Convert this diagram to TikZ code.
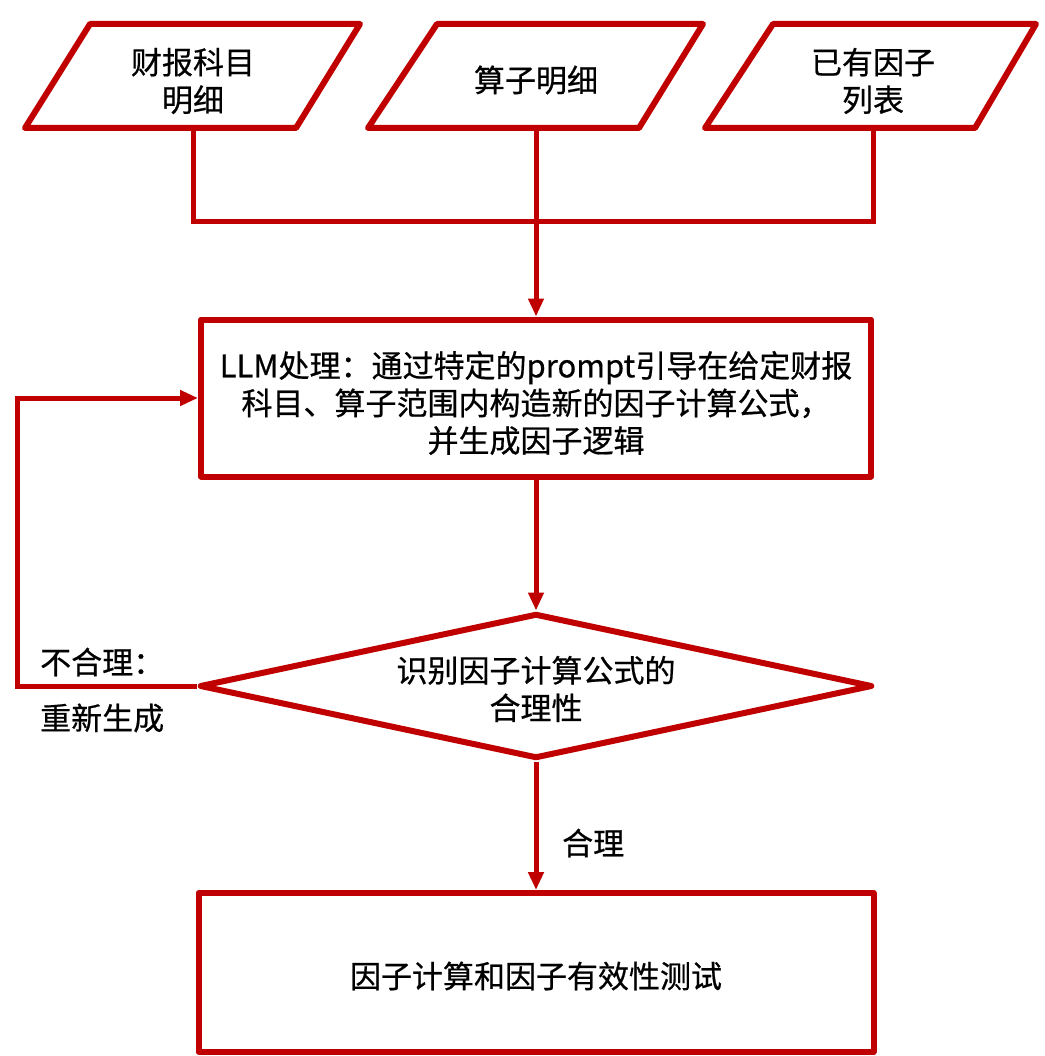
\documentclass[tikz,border=0pt]{standalone}
\usepackage{fontspec}
\newfontfamily\cjk[FakeBold=0.6]{Noto Sans CJK SC}
\usetikzlibrary{arrows.meta,shapes.geometric}
\definecolor{fr}{HTML}{C00000}
\begin{document}
\begin{tikzpicture}[x=1pt,y=1pt,
  txt/.style={font=\cjk\fontsize{31}{37.5}\selectfont, align=center, text=black, inner sep=0pt},
  shapeline/.style={draw=fr, line width=6pt, line join=round},
  conn/.style={draw=fr, line width=5pt},
  arr/.style={conn, -{Triangle[length=18pt,width=15pt]}},
]
\useasboundingbox (0,0) rectangle (1044,-1056);
% input parallelograms
\draw[shapeline] (90,-24) -- (360,-24) -- (296,-128) -- (25,-128) -- cycle;
\draw[shapeline] (437,-24) -- (703,-24) -- (639,-128) -- (368,-128) -- cycle;
\draw[shapeline] (773,-24) -- (1036,-24) -- (975,-128) -- (705,-128) -- cycle;
\node[txt] (in1) at (193,-81) {财报科目\\明细};
\node[txt] (in2) at (536,-80) {算子明细};
\node[txt] (in3) at (873,-81) {已有因子\\列表};
\coordinate (b1) at (193,-128);
\coordinate (b2) at (536,-128);
\coordinate (b3) at (873,-128);
\coordinate (j1) at (193,-222);
\coordinate (j3) at (873,-222);
% process box
\node[shapeline, txt, rectangle, minimum width=670pt, minimum height=157pt] (llm) at (536,-398) {};
\node[txt] (llmt) at (536,-403) {LLM处理：通过特定的prompt引导在给定财报\\科目、算子范围内构造新的因子计算公式，\\并生成因子逻辑};
% decision
\node[shapeline, txt, diamond, aspect=4.64, minimum width=673pt, minimum height=145pt] (dia) at (536,-686) {};
\node[txt] (diat) at (536,-689) {识别因子计算公式的\\合理性};
% result
\node[shapeline, txt, rectangle, minimum width=675pt, minimum height=159pt] (res) at (536,-972.5) {};
\node[txt] (rest) at (536,-976) {因子计算和因子有效性测试};
% labels
\node[txt, anchor=west] (no1) at (40,-662) {不合理：};
\node[txt, anchor=west] (no2) at (40,-718) {重新生成};
\node[txt, anchor=west] (yes) at (562,-843) {合理};
\coordinate (lp) at (17,-686);
% connectors
\draw[conn, line join=miter] (b1) -- (j1) -- (j3) -- (b3);
\draw[arr] (b2) -- (llm.north);
\draw[arr] (llm.south) -- (dia.north);
\draw[arr, line join=miter] (dia.west) -- (lp) |- (llm.west);
\draw[arr] (dia.south) -- (res.north);
\end{tikzpicture}
\end{document}
